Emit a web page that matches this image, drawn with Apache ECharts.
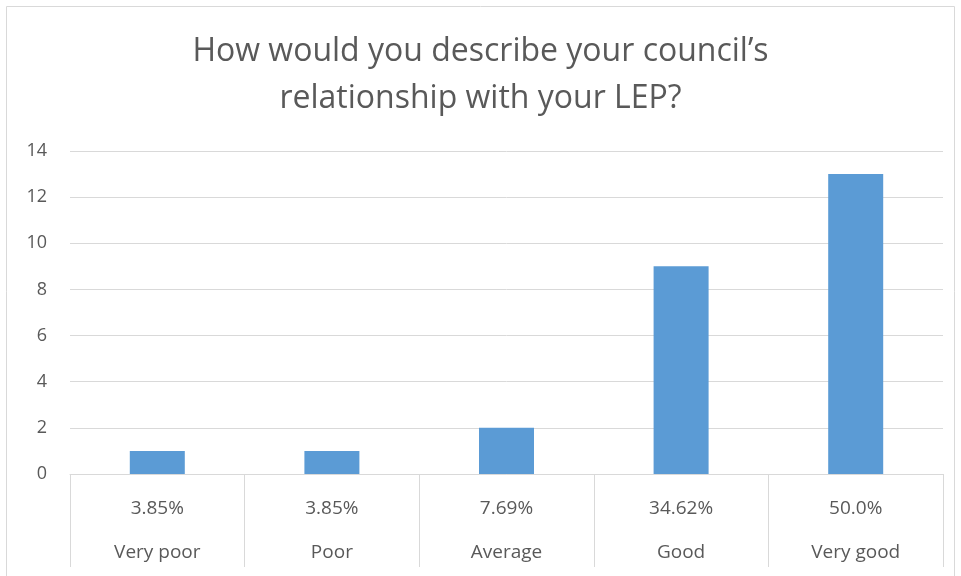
<!DOCTYPE html>
<html>
<head>
<meta charset="utf-8">
<script src="https://cdn.jsdelivr.net/npm/echarts@6/dist/echarts.min.js"></script>
<style>
  body { margin: 0; background: #fff; }
  #chart { width: 961px; height: 576px; }
</style>
</head>
<body>
<div id="chart"></div>
<script>
/* chart data */
let categories = ["Very poor", "Poor", "Average", "Good", "Very good"];
let counts = [1, 1, 2, 9, 13];
let shares = ["3.85%", "3.85%", "7.69%", "34.62%", "50.0%"];
let yTicks = { min: 0, max: 14, interval: 2 };

let textColor = "#595959";
let lineColor = "#d9d9d9";

/* chart render */
let myChart = echarts.init(document.getElementById("chart"));
let option = {
  animation: false,
  title: {
    text: "How would you describe your council\u2019s\nrelationship with your LEP?",
    left: "center",
    top: 23,
    textStyle: {
      fontFamily: "Open Sans",
      fontWeight: "normal",
      fontSize: 32,
      lineHeight: 47,
      color: textColor,
    },
  },
  graphic: [
    {
      type: "rect",
      shape: { x: 6.5, y: 6.5, width: 948, height: 620 },
      style: { fill: "none", stroke: lineColor, lineWidth: 1 },
      silent: true,
    },
  ],
  grid: { left: 70, right: 18, top: 151, bottom: 102 },
  xAxis: {
    type: "category",
    data: categories,
    axisLine: { lineStyle: { color: lineColor, width: 1 } },
    axisTick: { show: true, length: 93, interval: 0, lineStyle: { color: lineColor } },
    axisLabel: {
      interval: 0,
      margin: 13,
      formatter: function (value, idx) {
        return "{p|" + shares[idx] + "}\n{c|" + value + "}";
      },
      rich: {
        p: { fontFamily: "Open Sans", fontSize: 19, color: textColor, lineHeight: 44 },
        c: { fontFamily: "Open Sans", fontSize: 19, color: textColor, lineHeight: 44 },
      },
    },
  },
  yAxis: {
    type: "value",
    min: yTicks.min,
    max: yTicks.max,
    interval: yTicks.interval,
    axisLine: { show: false },
    axisTick: { show: false },
    splitLine: { lineStyle: { color: lineColor, width: 1 } },
    axisLabel: { fontFamily: "Open Sans", fontSize: 18, color: textColor, margin: 23 },
  },
  series: [
    {
      type: "bar",
      data: counts,
      barWidth: "31.5%",
      itemStyle: { color: "#5b9bd5" },
    },
  ],
};
myChart.setOption(option);
</script>
</body>
</html>
